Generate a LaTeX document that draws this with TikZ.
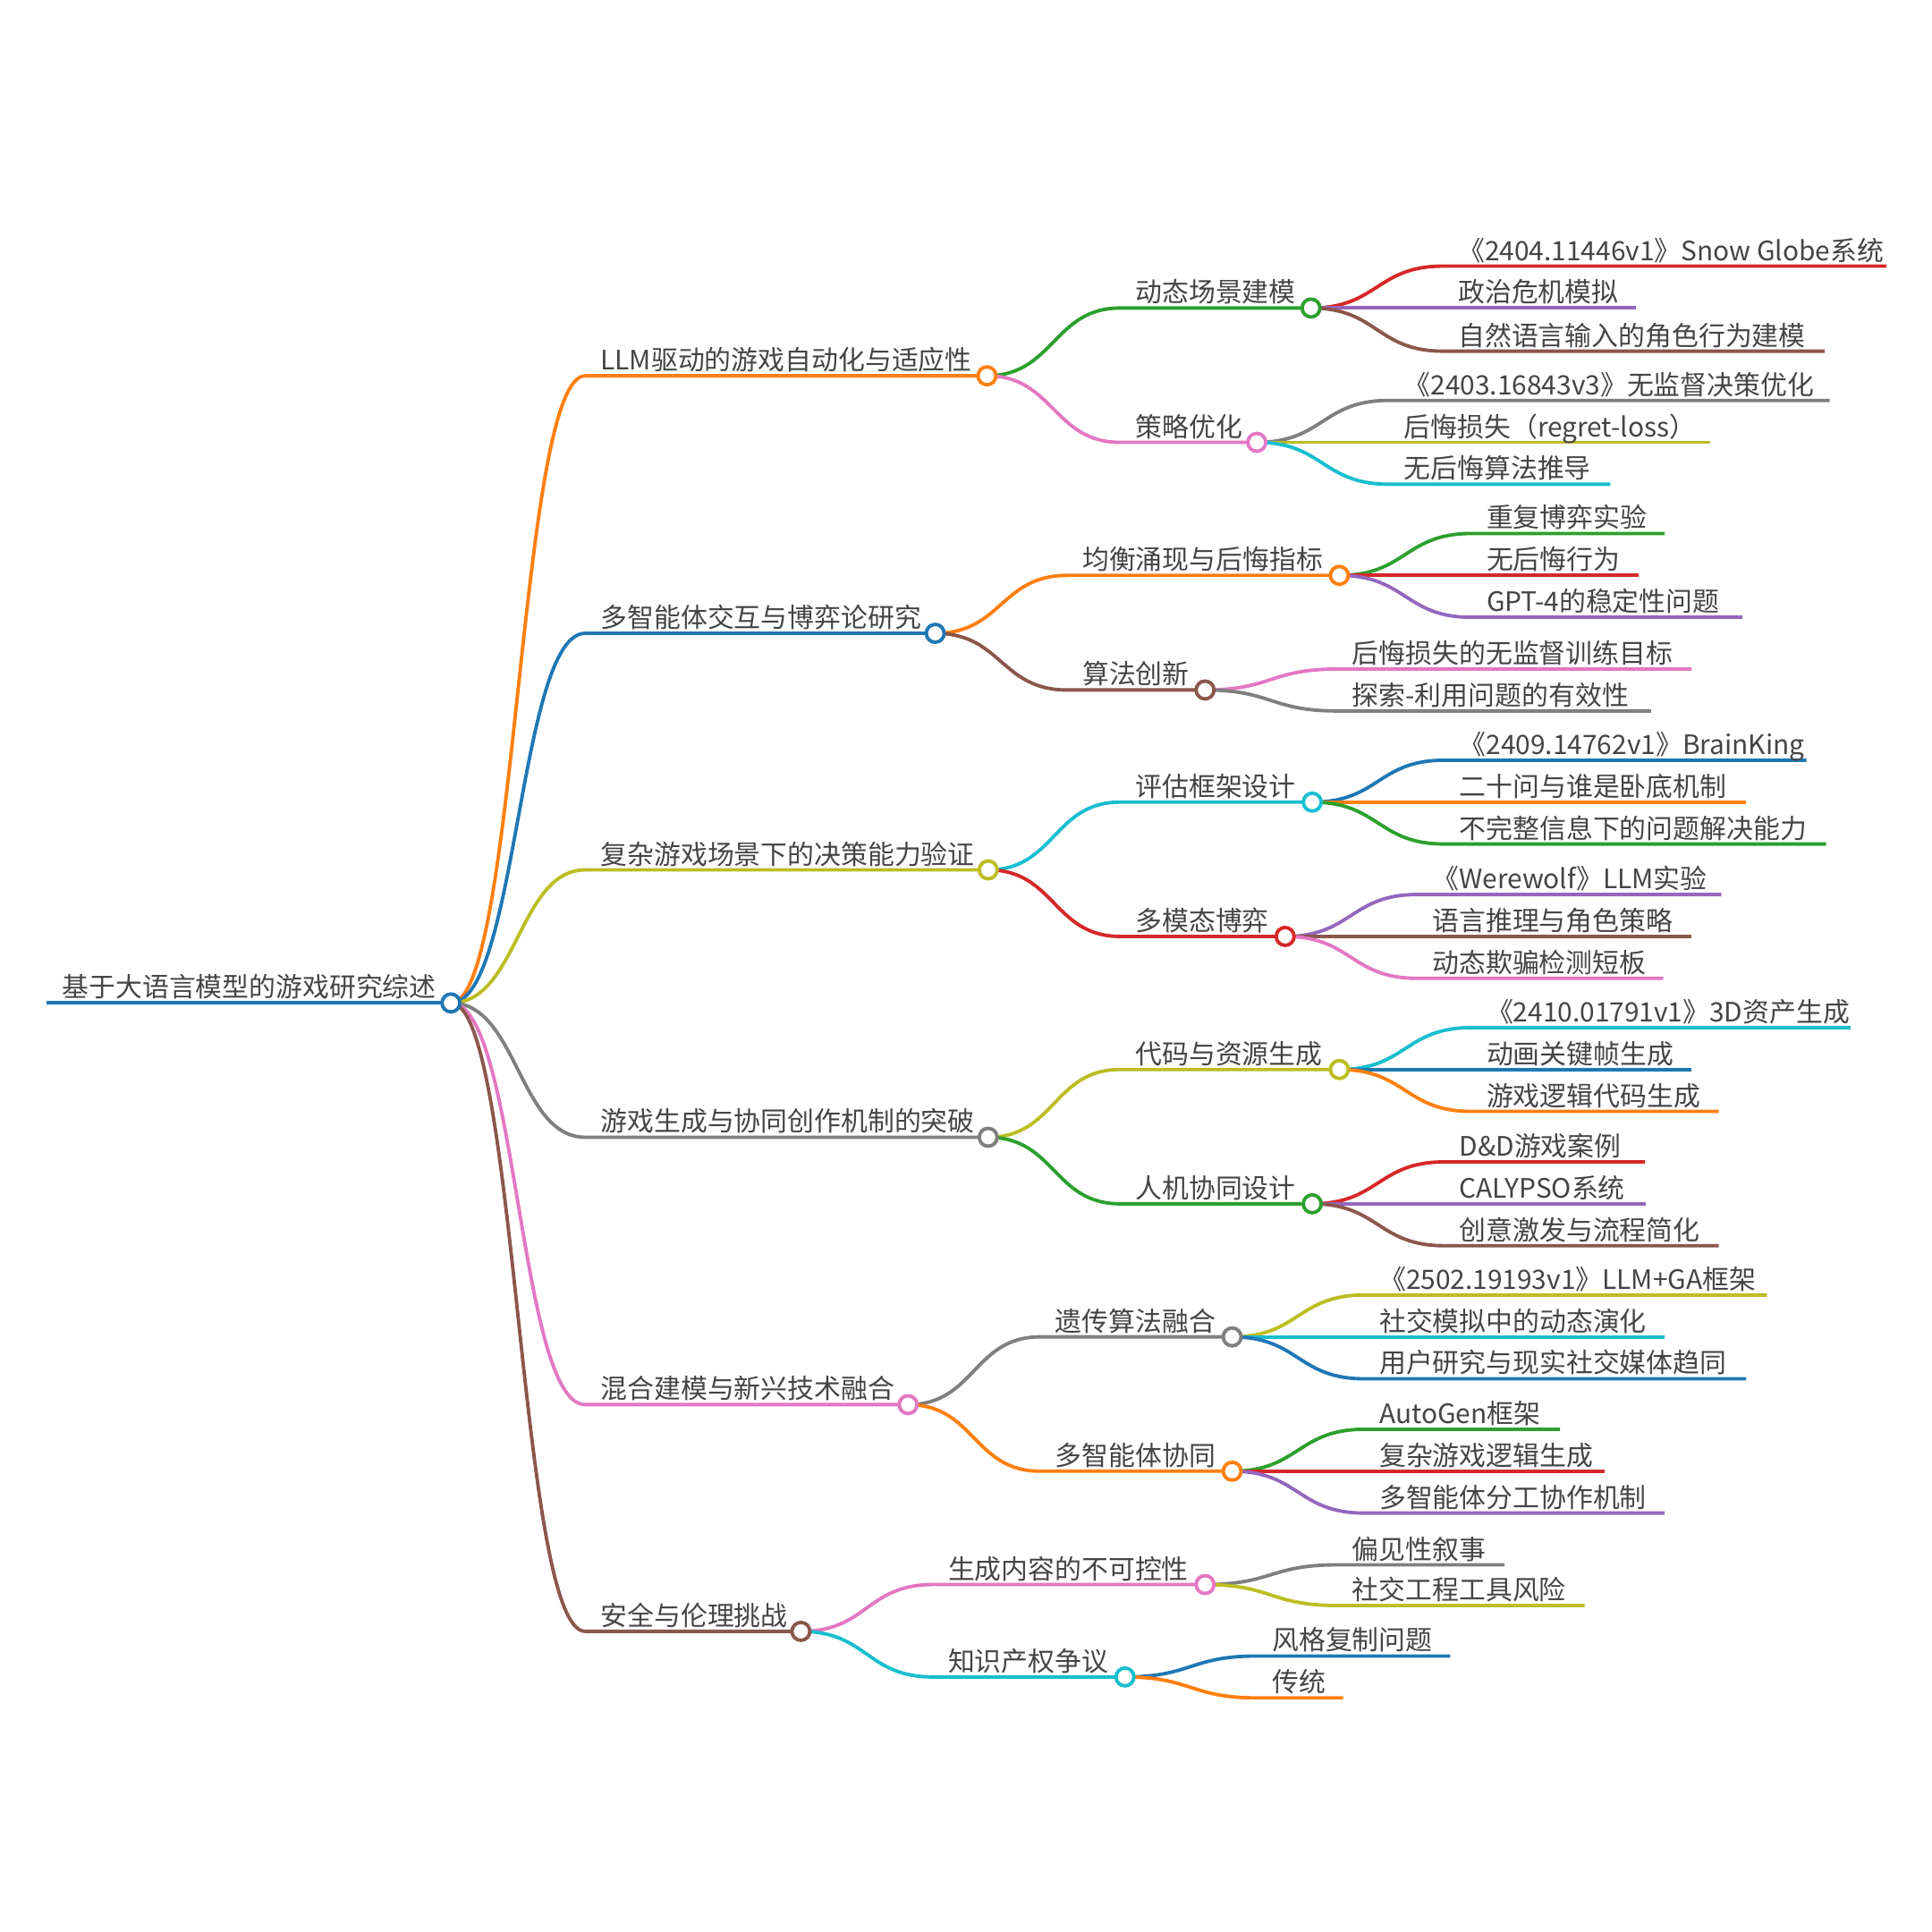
\documentclass[tikz,border=0pt]{standalone}
\usepackage{fontspec}
\setmainfont{Noto Sans CJK SC}
\usetikzlibrary{backgrounds}

\definecolor{cBlue}{HTML}{1F77B4}
\definecolor{cOrange}{HTML}{FF7F0E}
\definecolor{cGreen}{HTML}{2CA02C}
\definecolor{cRed}{HTML}{D62728}
\definecolor{cPurple}{HTML}{9467BD}
\definecolor{cBrown}{HTML}{8C564B}
\definecolor{cPink}{HTML}{E377C2}
\definecolor{cGray}{HTML}{7F7F7F}
\definecolor{cOlive}{HTML}{BCBD22}
\definecolor{cCyan}{HTML}{17BECF}
\definecolor{txt}{HTML}{444444}

\begin{document}
\begin{tikzpicture}[
        x=0.013776cm,
        y=-0.013776cm,
        hub/.style={
            circle,
            draw,
            fill=white,
            line width=1.1pt,
            inner sep=0pt,
            minimum size=0.2cm
        },
        topic/.style={
            anchor=base west,
            inner sep=0pt,
            xshift=0.165cm,
            yshift=0.065cm,
            text=txt,
            font=\fontsize{8.5pt}{10pt}\selectfont
        },
        branch/.style={
            line width=1.1pt
        },
        branchto/.style={
            to path={.. controls +(54,0) and +(-54,0) .. (\tikztotarget) \tikztonodes}
        }
    ]
    \useasboundingbox (0,0) rectangle (1568,1568);

        % Root
        \coordinate (roots) at (38,814);
        \node[hub, draw=cBlue] (root) at (366,814) {};
        \node[topic] (roott) at (roots) {基于大语言模型的游戏研究综述};

        % Main topics
        \coordinate (m1s) at (475,305);
        \node[hub, draw=cOrange] (m1) at (801,305) {};
        \node[topic] (m1t) at (m1s) {LLM驱动的游戏自动化与适应性};
        \coordinate (m2s) at (475,514);
        \node[hub, draw=cBlue] (m2) at (759,514) {};
        \node[topic] (m2t) at (m2s) {多智能体交互与博弈论研究};
        \coordinate (m3s) at (475,706);
        \node[hub, draw=cOlive] (m3) at (802,706) {};
        \node[topic] (m3t) at (m3s) {复杂游戏场景下的决策能力验证};
        \coordinate (m4s) at (475,923);
        \node[hub, draw=cGray] (m4) at (802,923) {};
        \node[topic] (m4t) at (m4s) {游戏生成与协同创作机制的突破};
        \coordinate (m5s) at (475,1140);
        \node[hub, draw=cPink] (m5) at (737,1140) {};
        \node[topic] (m5t) at (m5s) {混合建模与新兴技术融合};
        \coordinate (m6s) at (475,1324);
        \node[hub, draw=cBrown] (m6) at (650,1324) {};
        \node[topic] (m6t) at (m6s) {安全与伦理挑战};

        % Sub topics
        \coordinate (m1as) at (909,250);
        \node[hub, draw=cGreen] (m1a) at (1064,250) {};
        \node[topic] (m1at) at (m1as) {动态场景建模};
        \coordinate (m1bs) at (909,359);
        \node[hub, draw=cPink] (m1b) at (1020,359) {};
        \node[topic] (m1bt) at (m1bs) {策略优化};
        \coordinate (m2as) at (866,467);
        \node[hub, draw=cOrange] (m2a) at (1087,467) {};
        \node[topic] (m2at) at (m2as) {均衡涌现与后悔指标};
        \coordinate (m2bs) at (866,560);
        \node[hub, draw=cBrown] (m2b) at (978,560) {};
        \node[topic] (m2bt) at (m2bs) {算法创新};
        \coordinate (m3as) at (909,651);
        \node[hub, draw=cCyan] (m3a) at (1065,651) {};
        \node[topic] (m3at) at (m3as) {评估框架设计};
        \coordinate (m3bs) at (909,760);
        \node[hub, draw=cRed] (m3b) at (1043,760) {};
        \node[topic] (m3bt) at (m3bs) {多模态博弈};
        \coordinate (m4as) at (909,868);
        \node[hub, draw=cOlive] (m4a) at (1087,868) {};
        \node[topic] (m4at) at (m4as) {代码与资源生成};
        \coordinate (m4bs) at (909,977);
        \node[hub, draw=cGreen] (m4b) at (1065,977) {};
        \node[topic] (m4bt) at (m4bs) {人机协同设计};
        \coordinate (m5as) at (844,1085);
        \node[hub, draw=cGray] (m5a) at (1000,1085) {};
        \node[topic] (m5at) at (m5as) {遗传算法融合};
        \coordinate (m5bs) at (844,1194);
        \node[hub, draw=cOrange] (m5b) at (1000,1194) {};
        \node[topic] (m5bt) at (m5bs) {多智能体协同};
        \coordinate (m6as) at (757,1286);
        \node[hub, draw=cPink] (m6a) at (978,1286) {};
        \node[topic] (m6at) at (m6as) {生成内容的不可控性};
        \coordinate (m6bs) at (757,1361);
        \node[hub, draw=cCyan] (m6b) at (913,1361) {};
        \node[topic] (m6bt) at (m6bs) {知识产权争议};

        % Leaves (start and end of each underline)
        \coordinate (f1) at (1171,216);  \coordinate (f1e) at (1531,216);
        \node[topic] (f1t) at (f1) {《2404.11446v1》Snow Globe系统};
        \coordinate (f2) at (1171,250);  \coordinate (f2e) at (1328,250);
        \node[topic] (f2t) at (f2) {政治危机模拟};
        \coordinate (f3) at (1171,285);  \coordinate (f3e) at (1481,285);
        \node[topic] (f3t) at (f3) {自然语言输入的角色行为建模};
        \coordinate (f4) at (1127,325);  \coordinate (f4e) at (1485,325);
        \node[topic] (f4t) at (f4) {《2403.16843v3》无监督决策优化};
        \coordinate (f5) at (1127,359);  \coordinate (f5e) at (1388,359);
        \node[topic] (f5t) at (f5) {后悔损失（regret-loss）};
        \coordinate (f6) at (1127,393);  \coordinate (f6e) at (1307,393);
        \node[topic] (f6t) at (f6) {无后悔算法推导};
        \coordinate (f7) at (1194,433);  \coordinate (f7e) at (1351,433);
        \node[topic] (f7t) at (f7) {重复博弈实验};
        \coordinate (f8) at (1194,467);  \coordinate (f8e) at (1330,467);
        \node[topic] (f8t) at (f8) {无后悔行为};
        \coordinate (f9) at (1194,501);  \coordinate (f9e) at (1414,501);
        \node[topic] (f9t) at (f9) {GPT-4的稳定性问题};
        \coordinate (f10) at (1085,543); \coordinate (f10e) at (1373,543);
        \node[topic] (f10t) at (f10) {后悔损失的无监督训练目标};
        \coordinate (f11) at (1085,577); \coordinate (f11e) at (1340,577);
        \node[topic] (f11t) at (f11) {探索-利用问题的有效性};
        \coordinate (f12) at (1172,617); \coordinate (f12e) at (1466,617);
        \node[topic] (f12t) at (f12) {《2409.14762v1》BrainKing};
        \coordinate (f13) at (1172,651); \coordinate (f13e) at (1417,651);
        \node[topic] (f13t) at (f13) {二十问与谁是卧底机制};
        \coordinate (f14) at (1172,685); \coordinate (f14e) at (1482,685);
        \node[topic] (f14t) at (f14) {不完整信息下的问题解决能力};
        \coordinate (f15) at (1150,726); \coordinate (f15e) at (1397,726);
        \node[topic] (f15t) at (f15) {《Werewolf》LLM实验};
        \coordinate (f16) at (1150,760); \coordinate (f16e) at (1373,760);
        \node[topic] (f16t) at (f16) {语言推理与角色策略};
        \coordinate (f17) at (1150,794); \coordinate (f17e) at (1350,794);
        \node[topic] (f17t) at (f17) {动态欺骗检测短板};
        \coordinate (f18) at (1194,834); \coordinate (f18e) at (1502,834);
        \node[topic] (f18t) at (f18) {《2410.01791v1》3D资产生成};
        \coordinate (f19) at (1194,868); \coordinate (f19e) at (1373,868);
        \node[topic] (f19t) at (f19) {动画关键帧生成};
        \coordinate (f20) at (1194,902); \coordinate (f20e) at (1395,902);
        \node[topic] (f20t) at (f20) {游戏逻辑代码生成};
        \coordinate (f21) at (1172,943); \coordinate (f21e) at (1335,943);
        \node[topic] (f21t) at (f21) {D\&D游戏案例};
        \coordinate (f22) at (1172,977); \coordinate (f22e) at (1336,977);
        \node[topic] (f22t) at (f22) {CALYPSO系统};
        \coordinate (f23) at (1172,1011); \coordinate (f23e) at (1395,1011);
        \node[topic] (f23t) at (f23) {创意激发与流程简化};
        \coordinate (f24) at (1107,1051); \coordinate (f24e) at (1434,1051);
        \node[topic] (f24t) at (f24) {《2502.19193v1》LLM+GA框架};
        \coordinate (f25) at (1107,1085); \coordinate (f25e) at (1351,1085);
        \node[topic] (f25t) at (f25) {社交模拟中的动态演化};
        \coordinate (f26) at (1107,1119); \coordinate (f26e) at (1417,1119);
        \node[topic] (f26t) at (f26) {用户研究与现实社交媒体趋同};
        \coordinate (f27) at (1107,1160); \coordinate (f27e) at (1266,1160);
        \node[topic] (f27t) at (f27) {AutoGen框架};
        \coordinate (f28) at (1107,1194); \coordinate (f28e) at (1302,1194);
        \node[topic] (f28t) at (f28) {复杂游戏逻辑生成};
        \coordinate (f29) at (1107,1228); \coordinate (f29e) at (1351,1228);
        \node[topic] (f29t) at (f29) {多智能体分工协作机制};
        \coordinate (f30) at (1085,1270); \coordinate (f30e) at (1221,1270);
        \node[topic] (f30t) at (f30) {偏见性叙事};
        \coordinate (f31) at (1085,1303); \coordinate (f31e) at (1286,1303);
        \node[topic] (f31t) at (f31) {社交工程工具风险};
        \coordinate (f32) at (1020,1344); \coordinate (f32e) at (1177,1344);
        \node[topic] (f32t) at (f32) {风格复制问题};
        \coordinate (f33) at (1020,1378); \coordinate (f33e) at (1090,1378);
        \node[topic] (f33t) at (f33) {传统};

        % Connectors
        \begin{scope}[on background layer]
        \begin{scope}[branch]
            \draw[cBlue] (roots) -- (root.center);
            \draw[cOrange] (root.center) to[branchto] (m1s) -- (m1.center);
            \draw[cBlue] (root.center) to[branchto] (m2s) -- (m2.center);
            \draw[cOlive] (root.center) to[branchto] (m3s) -- (m3.center);
            \draw[cGray] (root.center) to[branchto] (m4s) -- (m4.center);
            \draw[cPink] (root.center) to[branchto] (m5s) -- (m5.center);
            \draw[cBrown] (root.center) to[branchto] (m6s) -- (m6.center);

            \draw[cGreen] (m1.center) to[branchto] (m1as) -- (m1a.center);
            \draw[cPink] (m1.center) to[branchto] (m1bs) -- (m1b.center);
            \draw[cOrange] (m2.center) to[branchto] (m2as) -- (m2a.center);
            \draw[cBrown] (m2.center) to[branchto] (m2bs) -- (m2b.center);
            \draw[cCyan] (m3.center) to[branchto] (m3as) -- (m3a.center);
            \draw[cRed] (m3.center) to[branchto] (m3bs) -- (m3b.center);
            \draw[cOlive] (m4.center) to[branchto] (m4as) -- (m4a.center);
            \draw[cGreen] (m4.center) to[branchto] (m4bs) -- (m4b.center);
            \draw[cGray] (m5.center) to[branchto] (m5as) -- (m5a.center);
            \draw[cOrange] (m5.center) to[branchto] (m5bs) -- (m5b.center);
            \draw[cPink] (m6.center) to[branchto] (m6as) -- (m6a.center);
            \draw[cCyan] (m6.center) to[branchto] (m6bs) -- (m6b.center);

            \draw[cRed] (m1a.center) to[branchto] (f1) -- (f1e);
            \draw[cPurple] (m1a.center) -- (f2) -- (f2e);
            \draw[cBrown] (m1a.center) to[branchto] (f3) -- (f3e);
            \draw[cGray] (m1b.center) to[branchto] (f4) -- (f4e);
            \draw[cOlive] (m1b.center) -- (f5) -- (f5e);
            \draw[cCyan] (m1b.center) to[branchto] (f6) -- (f6e);
            \draw[cGreen] (m2a.center) to[branchto] (f7) -- (f7e);
            \draw[cRed] (m2a.center) -- (f8) -- (f8e);
            \draw[cPurple] (m2a.center) to[branchto] (f9) -- (f9e);
            \draw[cPink] (m2b.center) to[branchto] (f10) -- (f10e);
            \draw[cGray] (m2b.center) to[branchto] (f11) -- (f11e);
            \draw[cBlue] (m3a.center) to[branchto] (f12) -- (f12e);
            \draw[cOrange] (m3a.center) -- (f13) -- (f13e);
            \draw[cGreen] (m3a.center) to[branchto] (f14) -- (f14e);
            \draw[cPurple] (m3b.center) to[branchto] (f15) -- (f15e);
            \draw[cBrown] (m3b.center) -- (f16) -- (f16e);
            \draw[cPink] (m3b.center) to[branchto] (f17) -- (f17e);
            \draw[cCyan] (m4a.center) to[branchto] (f18) -- (f18e);
            \draw[cBlue] (m4a.center) -- (f19) -- (f19e);
            \draw[cOrange] (m4a.center) to[branchto] (f20) -- (f20e);
            \draw[cRed] (m4b.center) to[branchto] (f21) -- (f21e);
            \draw[cPurple] (m4b.center) -- (f22) -- (f22e);
            \draw[cBrown] (m4b.center) to[branchto] (f23) -- (f23e);
            \draw[cOlive] (m5a.center) to[branchto] (f24) -- (f24e);
            \draw[cCyan] (m5a.center) -- (f25) -- (f25e);
            \draw[cBlue] (m5a.center) to[branchto] (f26) -- (f26e);
            \draw[cGreen] (m5b.center) to[branchto] (f27) -- (f27e);
            \draw[cRed] (m5b.center) -- (f28) -- (f28e);
            \draw[cPurple] (m5b.center) to[branchto] (f29) -- (f29e);
            \draw[cGray] (m6a.center) to[branchto] (f30) -- (f30e);
            \draw[cOlive] (m6a.center) to[branchto] (f31) -- (f31e);
            \draw[cBlue] (m6b.center) to[branchto] (f32) -- (f32e);
            \draw[cOrange] (m6b.center) to[branchto] (f33) -- (f33e);
        \end{scope}
        \end{scope}

    \end{tikzpicture}
\end{document}
